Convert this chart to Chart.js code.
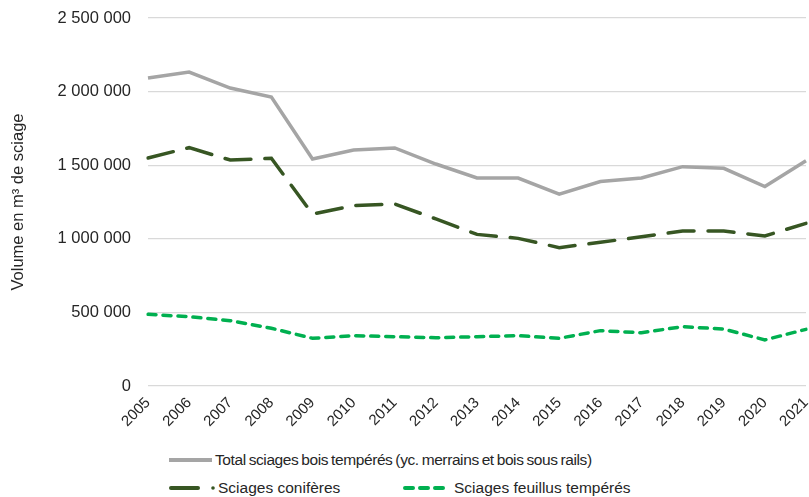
<!DOCTYPE html>
<html>
<head>
<meta charset="utf-8">
<script src="https://cdn.jsdelivr.net/npm/chart.js@4"></script>
<style>
    html, body { margin: 0; padding: 0; background: #fff; }
    #wrap { position: relative; width: 809px; height: 497px; overflow: hidden; }
    #box { position: absolute; left: 0; top: 0; width: 809px; height: 440px; }
    .leg { position: absolute; display: flex; align-items: center; font-family: "Liberation Sans", sans-serif; font-size: 15.5px; color: #262626; white-space: nowrap; }
    .leg svg { display: block; }
</style>
</head>
<body>
<div id="wrap">
    <div id="box"><canvas id="lineChart"></canvas></div>
    <div class="leg" style="left:168px; top:450px;">
        <svg width="44" height="20"><line x1="1" y1="10" x2="44" y2="10" stroke="#a5a5a5" stroke-width="4"/></svg>
        <span style="margin-left:3px; letter-spacing:-0.4px; word-spacing:-1px;">Total sciages bois tempérés (yc. merrains et bois sous rails)</span>
    </div>
    <div class="leg" style="left:168px; top:478px;">
        <svg width="48" height="20"><line x1="3" y1="10" x2="30" y2="10" stroke="#375623" stroke-width="4" stroke-linecap="round"/><circle cx="45" cy="10" r="1.8" fill="#375623"/></svg>
        <span style="margin-left:2px;">Sciages conifères</span>
    </div>
    <div class="leg" style="left:402px; top:478px;">
        <svg width="44" height="20"><line x1="3" y1="10" x2="42" y2="10" stroke="#00b050" stroke-width="4" stroke-linecap="round" stroke-dasharray="8 7"/></svg>
        <span style="margin-left:8px;">Sciages feuillus tempérés</span>
    </div>
</div>
<script>
const years = ['2005', '2006', '2007', '2008', '2009', '2010', '2011', '2012', '2013',
    '2014', '2015', '2016', '2017', '2018', '2019', '2020', '2021'];

const totalValues = [2092000, 2133000, 2024000, 1963000, 1542000, 1603000, 1617000, 1508000, 1413000,
    1413000, 1304000, 1389000, 1413000, 1490000, 1479000, 1355000, 1530000];

const coniferValues = [1549000, 1619000, 1535000, 1547000, 1168000, 1226000, 1236000, 1135000, 1030000,
    1003000, 940000, 976000, 1014000, 1053000, 1053000, 1019000, 1105000];

const feuillusValues = [487000, 471000, 444000, 392000, 324000, 342000, 335000, 328000, 335000,
    342000, 324000, 376000, 362000, 403000, 387000, 313000, 385000];

const yTicks = [0, 500000, 1000000, 1500000, 2000000, 2500000];

function fmt(v) {
    return String(v).replace(/\B(?=(\d{3})+(?!\d))/g, ' ');
}

const ctx = document.getElementById('lineChart').getContext('2d');
new Chart(ctx, {
    type: 'line',
    data: {
        labels: years,
        datasets: [
            {
                label: 'Total sciages bois tempérés (yc. merrains et bois sous rails)',
                data: totalValues,
                borderColor: '#a5a5a5',
                borderWidth: 3.5,
                pointRadius: 0,
                tension: 0
            },
            {
                label: 'Sciages conifères',
                data: coniferValues,
                borderColor: '#375623',
                borderWidth: 3.5,
                borderDash: [26, 14],
                borderCapStyle: 'round',
                pointRadius: 0,
                tension: 0
            },
            {
                label: 'Sciages feuillus tempérés',
                data: feuillusValues,
                borderColor: '#00b050',
                borderWidth: 3.5,
                borderDash: [8, 7],
                borderCapStyle: 'round',
                pointRadius: 0,
                tension: 0
            }
        ]
    },
    options: {
        responsive: true,
        maintainAspectRatio: false,
        animation: false,
        layout: { padding: { top: 18, right: 3, left: 0, bottom: 0 } },
        plugins: {
            legend: { display: false },
            tooltip: { enabled: false }
        },
        scales: {
            x: {
                grid: { display: false },
                border: { display: false },
                ticks: {
                    minRotation: 45,
                    maxRotation: 45,
                    color: '#262626',
                    font: { family: 'Liberation Sans', size: 15 },
                    padding: 0
                },
                afterFit: (scale) => {
                    scale.height = 54;
                    scale.paddingRight = 0;
                    scale.paddingLeft = 0;
                }
            },
            y: {
                min: 0,
                max: 2500000,
                afterBuildTicks: (scale) => { scale.ticks = yTicks.map(v => ({ value: v })); },
                grid: { color: '#d9d9d9', lineWidth: 1.2, drawTicks: false },
                border: { display: false },
                ticks: {
                    color: '#262626',
                    font: { family: 'Liberation Sans', size: 16.5 },
                    padding: 17,
                    callback: (v) => fmt(v)
                },
                title: {
                    display: true,
                    text: 'Volume en m³ de sciage',
                    color: '#262626',
                    font: { family: 'Liberation Sans', size: 16.5 },
                    padding: { top: 9, bottom: 0 }
                },
                afterFit: (scale) => {
                    scale.width = 148;
                    scale.paddingTop = 0;
                    scale.paddingBottom = 0;
                }
            }
        }
    }
});
</script>
</body>
</html>
